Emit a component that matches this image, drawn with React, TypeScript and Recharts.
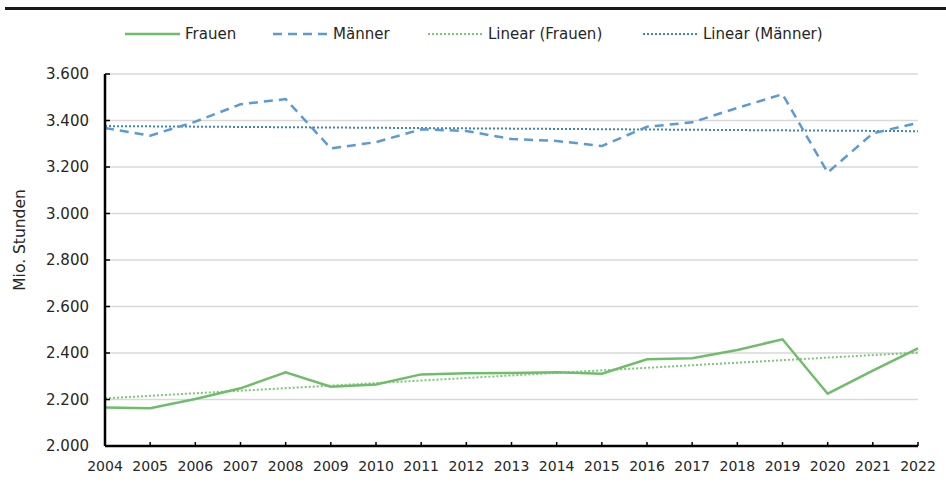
import { LineChart, Line, XAxis, YAxis, CartesianGrid } from "recharts";

const years = [
  "2004", "2005", "2006", "2007", "2008", "2009", "2010", "2011", "2012", "2013",
  "2014", "2015", "2016", "2017", "2018", "2019", "2020", "2021", "2022",
];
const frauen = [
  2166, 2162, 2202, 2248, 2317, 2255, 2265, 2308, 2313, 2314,
  2317, 2311, 2373, 2377, 2413, 2459, 2225, 2324, 2420,
];
const maenner = [
  3368, 3335, 3395, 3470, 3492, 3280, 3307, 3362, 3355, 3320,
  3312, 3290, 3373, 3392, 3454, 3513, 3176, 3345, 3390,
];
// trend line end points
const trendYears = ["2004", "2022"];
const trendFrauen = [2205, 2402];
const trendMaenner = [3376, 3354];
const yTicks = [2000, 2200, 2400, 2600, 2800, 3000, 3200, 3400, 3600];

const data = years.map((year, i) => {
  const t = trendYears.indexOf(year);
  return {
    year,
    frauen: frauen[i],
    maenner: maenner[i],
    trendF: t >= 0 ? trendFrauen[t] : null,
    trendM: t >= 0 ? trendMaenner[t] : null,
  };
});

const GREEN = "#6fbd6a";
const BLUE = "#5b9bd5";
const GREEN_TREND = "#7cc776";
const BLUE_TREND = "#3d87b8";
const FONT = "'DejaVu Sans', sans-serif";

const fmt = (v: number) => `${Math.floor(v / 1000)}.${String(v % 1000).padStart(3, "0")}`;

const legendItems = [
  { name: "Frauen", color: GREEN, dash: undefined, left: 125 },
  { name: "Männer", color: BLUE, dash: "9 6", left: 273 },
  { name: "Linear (Frauen)", color: GREEN_TREND, dash: "2 2", left: 428 },
  { name: "Linear (Männer)", color: BLUE_TREND, dash: "2 2", left: 643 },
];

export default function App() {
  return (
    <div
      style={{
        position: "fixed",
        top: 0,
        left: 0,
        width: 946,
        height: 486,
        background: "#fff",
        fontFamily: FONT,
      }}
    >
      <div
        style={{
          position: "absolute",
          top: 7,
          left: 5,
          width: 941,
          height: 3,
          background: "#1a1a1a",
        }}
      />
      {legendItems.map((it) => (
        <div
          key={it.name}
          style={{
            position: "absolute",
            top: 24,
            left: it.left,
            height: 20,
            display: "flex",
            alignItems: "center",
            fontSize: 15,
            color: "#262626",
            whiteSpace: "nowrap",
          }}
        >
          <svg width={55} height={20} style={{ marginRight: 5 }}>
            <line
              x1={0}
              y1={10}
              x2={55}
              y2={10}
              stroke={it.color}
              strokeWidth={it.dash === "2 2" ? 2 : 2.5}
              strokeDasharray={it.dash}
            />
          </svg>
          <span>{it.name}</span>
        </div>
      ))}
      <div
        style={{
          position: "absolute",
          left: 20,
          top: 240,
          transform: "translate(-50%, -50%) rotate(-90deg)",
          fontSize: 15.5,
          color: "#262626",
          whiteSpace: "nowrap",
        }}
      >
        Mio. Stunden
      </div>
      <div style={{ position: "absolute", top: 0, left: 0 }}>
        <LineChart
          width={946}
          height={486}
          data={data}
          margin={{ top: 74, right: 28, left: 0, bottom: 0 }}
        >
          <CartesianGrid vertical={false} stroke="#d9d9d9" strokeWidth={1.5} />
          <XAxis
            dataKey="year"
            interval={0}
            height={40}
            axisLine={{ stroke: "#000", strokeWidth: 2.5 }}
            tickLine={{ stroke: "#000", strokeWidth: 1.5 }}
            tickSize={-4}
            tickMargin={19}
            tick={{ fill: "#262626", fontSize: 14, fontFamily: FONT }}
          />
          <YAxis
            width={105}
            domain={[2000, 3600]}
            ticks={yTicks}
            interval={0}
            tickFormatter={fmt}
            axisLine={{ stroke: "#000", strokeWidth: 2.5 }}
            tickLine={{ stroke: "#000", strokeWidth: 1.5 }}
            tickSize={-5}
            tickMargin={21}
            tick={{ fill: "#262626", fontSize: 15, fontFamily: FONT }}
          />
          <Line
            dataKey="trendF"
            stroke={GREEN_TREND}
            strokeWidth={2}
            strokeDasharray="2 2"
            dot={false}
            connectNulls
            isAnimationActive={false}
          />
          <Line
            dataKey="trendM"
            stroke={BLUE_TREND}
            strokeWidth={2}
            strokeDasharray="2 2"
            dot={false}
            connectNulls
            isAnimationActive={false}
          />
          <Line
            dataKey="frauen"
            stroke={GREEN}
            strokeWidth={2.5}
            dot={false}
            isAnimationActive={false}
          />
          <Line
            dataKey="maenner"
            stroke={BLUE}
            strokeWidth={2.5}
            strokeDasharray="9 6"
            dot={false}
            isAnimationActive={false}
          />
        </LineChart>
      </div>
    </div>
  );
}
